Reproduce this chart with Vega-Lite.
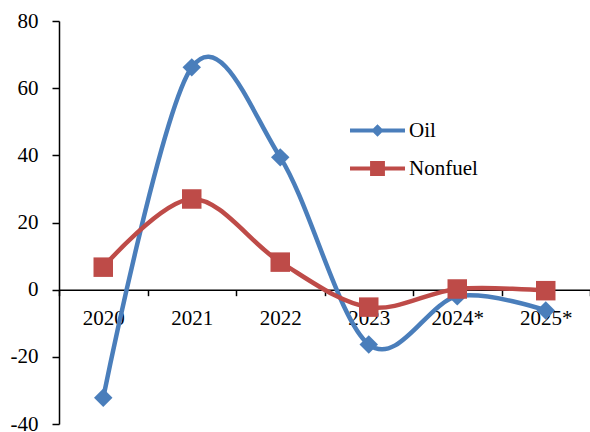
{
  "$schema": "https://vega.github.io/schema/vega-lite/v6.json",
  "width": 531,
  "height": 403,
  "autosize": {"type": "none"},
  "padding": {"left": 59, "top": 21, "right": 0, "bottom": 8},
  "config": {
    "view": {"stroke": null},
    "font": "Liberation Serif",
    "axis": {"grid": false, "labelFont": "Liberation Serif", "labelFontSize": 21, "labelColor": "#000", "domainColor": "#000", "tickColor": "#000", "domainWidth": 1.5, "tickWidth": 1.5, "title": null}
  },
  "data": {"values": [
    {"year": "2020", "series": "Oil", "value": -32.2},
    {"year": "2021", "series": "Oil", "value": 66.2},
    {"year": "2022", "series": "Oil", "value": 39.4},
    {"year": "2023", "series": "Oil", "value": -16.3},
    {"year": "2024*", "series": "Oil", "value": -2.0},
    {"year": "2025*", "series": "Oil", "value": -6.2},
    {"year": "2020", "series": "Nonfuel", "value": 6.7},
    {"year": "2021", "series": "Nonfuel", "value": 27.0},
    {"year": "2022", "series": "Nonfuel", "value": 8.2},
    {"year": "2023", "series": "Nonfuel", "value": -5.2},
    {"year": "2024*", "series": "Nonfuel", "value": 0.2},
    {"year": "2025*", "series": "Nonfuel", "value": -0.3}
  ]},
  "encoding": {
    "x": {"field": "year", "type": "ordinal", "sort": null,
      "scale": {"type": "band", "paddingInner": 0, "paddingOuter": 0},
      "axis": {"offset": -134.33, "tickBand": "extent", "tickSize": 6, "labelAngle": 0, "labelPadding": 12}},
    "y": {"field": "value", "type": "quantitative",
      "scale": {"domain": [-40, 80], "nice": false, "zero": false},
      "axis": {"values": [-40, -20, 0, 20, 40, 60, 80], "tickSize": 7, "labelPadding": 14, "labelExpr": "datum.value + ''"}}
  },
  "layer": [
    {
      "transform": [{"filter": "datum.series == 'Oil'"}],
      "mark": {"type": "line", "interpolate": "cardinal", "strokeWidth": 4.5, "color": "#4A7EBB"},
      "encoding": {}
    },
    {
      "transform": [{"filter": "datum.series == 'Oil'"}],
      "mark": {"type": "point", "shape": "diamond", "filled": true, "size": 340, "opacity": 1, "color": "#4A7EBB"},
      "encoding": {}
    },
    {
      "transform": [{"filter": "datum.series == 'Nonfuel'"}],
      "mark": {"type": "line", "interpolate": "cardinal", "strokeWidth": 4.5, "color": "#BE4B48"},
      "encoding": {}
    },
    {
      "transform": [{"filter": "datum.series == 'Nonfuel'"}],
      "mark": {"type": "point", "shape": "square", "filled": true, "size": 380, "opacity": 1, "color": "#BE4B48"},
      "encoding": {}
    },
    {
      "transform": [{"filter": "datum.value > 1000"}],
      "mark": {"type": "point", "filled": true, "opacity": 1},
      "encoding": {
        "color": {"field": "series", "type": "nominal",
          "scale": {"domain": ["Oil", "Nonfuel"], "range": ["#4A7EBB", "#BE4B48"]},
          "legend": {"orient": "none", "legendX": 291, "legendY": 82, "title": null, "symbolSize": 3025, "rowPadding": -15, "labelFontSize": 21, "labelFont": "Liberation Serif", "labelColor": "#000", "labelOffset": 4, "padding": 0, "symbolStrokeWidth": 0, "symbolOpacity": 1}},
        "shape": {"field": "series", "type": "nominal",
          "scale": {"domain": ["Oil", "Nonfuel"], "range": ["M-1,-0.075H1V0.075H-1Z M0,-0.23L0.23,0L0,0.23L-0.23,0Z", "M-1,-0.075H1V0.075H-1Z M-0.27,-0.27H0.27V0.27H-0.27Z"]},
          "legend": {"orient": "none", "legendX": 291, "legendY": 82, "title": null, "symbolSize": 3025, "rowPadding": -15, "labelFontSize": 21, "labelFont": "Liberation Serif", "labelColor": "#000", "labelOffset": 4, "padding": 0, "symbolStrokeWidth": 0, "symbolOpacity": 1}}
      }
    }
  ]
}
